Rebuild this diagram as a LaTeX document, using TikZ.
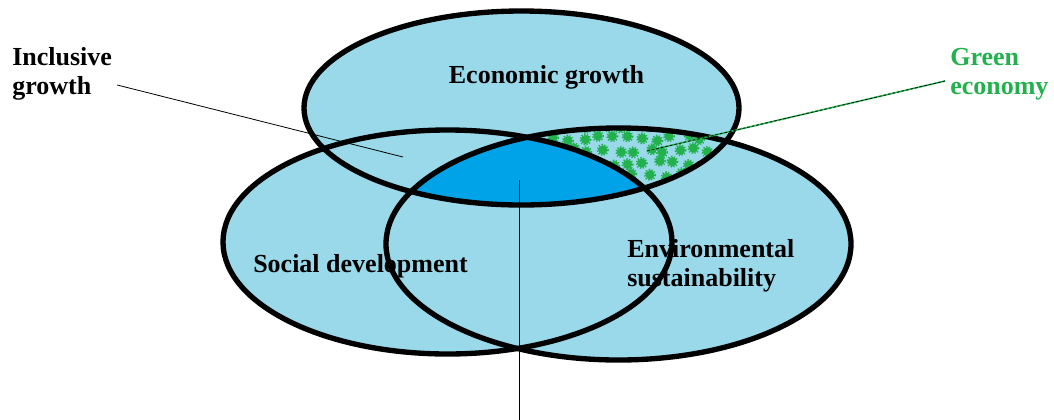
\documentclass[tikz,border=0pt]{standalone}
\usepackage{fontspec}
\setmainfont{Liberation Serif}
\begin{document}
\begin{tikzpicture}[x=0.75pt,y=0.75pt,yscale=-1,xscale=1,
  ringfill/.style={fill={rgb, 255:red, 153; green, 217; blue, 234}},
  ring/.style={draw=black, line width=4pt},
  blob/.style={color={rgb, 255:red, 34; green, 177; blue, 76 }},
  lbl/.style={font=\fontsize{19.5}{21.75}\selectfont\bfseries, inner sep=0pt, align=left},
  leader/.style={draw=black, line width=0.6pt}]
\useasboundingbox (0,0) rectangle (1054,419);

%Shape: Ellipse fills [id:social, environment, economic]
\fill [ringfill] (447.5,242) ellipse [x radius=224.5, y radius=112];
\fill [ringfill] (618.5,244) ellipse [x radius=232.5, y radius=116];
\fill [ringfill] (521.5,108) ellipse [x radius=217.5, y radius=97];

%Shape: Green economy dots
\begin{scope}
\clip (521.5,108) ellipse [x radius=217.5, y radius=97];
\clip (618.5,244) ellipse [x radius=232.5, y radius=116];
\pgfmathsetseed{11}
\foreach \i in {0,...,13}
  \foreach \j in {0,...,5}
  {
    \pgfmathsetmacro{\px}{544+15*\i+7.5*mod(\j,2)+4*rand}
    \pgfmathsetmacro{\py}{126+12.5*\j+3*rand}
    \fill [blob] (\px,\py) circle [radius=4.6];
    \draw [blob, line width=1.1pt, dash pattern=on 1pt off 1.2pt] (\px,\py) circle [radius=5.4];
  }
\end{scope}

%Shape: Core intersection
\begin{scope}
\clip (521.5,108) ellipse [x radius=217.5, y radius=97];
\clip (447.5,242) ellipse [x radius=224.5, y radius=112];
\fill [color={rgb, 255:red, 0; green, 162; blue, 232 }] (618.5,244) ellipse [x radius=232.5, y radius=116];
\end{scope}

%Shape: Ellipse outlines
\draw [ring] (447.5,242) ellipse [x radius=224.5, y radius=112];
\draw [ring] (618.5,244) ellipse [x radius=232.5, y radius=116];
\draw [ring] (521.5,108) ellipse [x radius=217.5, y radius=97];

% Text Node
\draw (546.5,83) node (econ) [lbl, anchor=base] {Economic growth};
% Text Node
\draw (253,272) node (social) [lbl, anchor=base west] {Social development};
% Text Node
\draw (627,265.5) node (envir) [lbl, anchor=west] {Environmental\\sustainability};
% Text Node
\draw (12,73.5) node (inclusive) [lbl, anchor=west] {Inclusive\\growth};
% Text Node
\draw (950,74.5) node (green) [lbl, anchor=west, text={rgb, 255:red, 34; green, 177; blue, 76 }] {Green\\economy};

%Straight Lines [leaders]
\coordinate (inclto) at (403,157);
\coordinate (greento) at (647,151);
\coordinate (coreto) at (519,180);
\coordinate (corefrom) at (519,425);
\draw [leader] ([shift={(5,11.5)}]inclusive.east) -- (inclto);
\draw [color={rgb, 255:red, 34; green, 177; blue, 76 }, line width=1.2pt] ([shift={(-5,6.5)}]green.west) -- (greento);
\draw [leader, line width=0.5pt, dash pattern=on 2pt off 1.5pt] ([shift={(-5,6.5)}]green.west) -- (greento);
\draw [leader] (corefrom) -- (coreto);

\end{tikzpicture}
\end{document}
